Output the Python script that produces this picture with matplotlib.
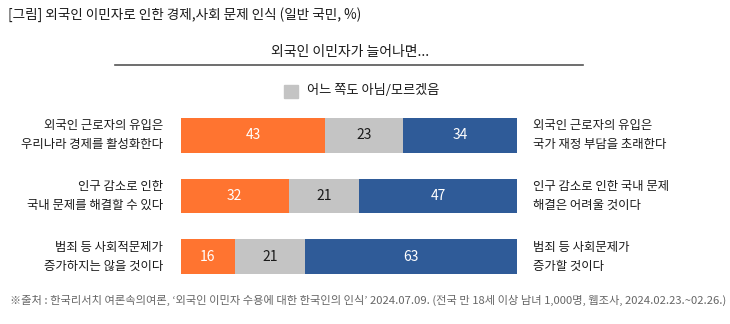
import matplotlib
matplotlib.use("Agg")
import matplotlib.pyplot as plt
from matplotlib.patches import Rectangle
from matplotlib.lines import Line2D

plt.rcParams['font.family'] = ['Noto Sans CJK KR', 'DejaVu Sans']

# data
left_labels = [
    "외국인 근로자의 유입은\n우리나라 경제를 활성화한다",
    "인구 감소로 인한\n국내 문제를 해결할 수 있다",
    "범죄 등 사회적문제가\n증가하지는 않을 것이다",
]
right_labels = [
    "외국인 근로자의 유입은\n국가 재정 부담을 초래한다",
    "인구 감소로 인한 국내 문제\n해결은 어려울 것이다",
    "범죄 등 사회문제가\n증가할 것이다",
]
agree = [43, 32, 16]
neutral = [23, 21, 21]
disagree = [34, 47, 63]

title = "[그림] 외국인 이민자로 인한 경제,사회 문제 인식 (일반 국민, %)"
subtitle = "외국인 이민자가 늘어나면..."
legend_label = "어느 쪽도 아님/모르겠음"
source = ("※출처 : 한국리서치 여론속의여론, ‘외국인 이민자 수용에 대한 한국인의 인식’ 2024.07.09. "
          "(전국 만 18세 이상 남녀 1,000명, 웹조사, 2024.02.23.~02.26.)")

c_orange = "#FF7430"
c_gray = "#C4C4C4"
c_blue = "#2F5B98"

W, H = 730, 324
fig = plt.figure(figsize=(W / 100, H / 100), dpi=100)

# bar area: x 181..517 px, y 118..274 px
ax = fig.add_axes([181 / W, 1 - 274 / H, 336 / W, 156 / H])
bh = 0.578
ys = list(range(len(agree)))
left2 = [a + n for a, n in zip(agree, neutral)]
ax.barh(ys, agree, height=bh, color=c_orange)
ax.barh(ys, neutral, left=agree, height=bh, color=c_gray)
ax.barh(ys, disagree, left=left2, height=bh, color=c_blue)

for y, a, n, d in zip(ys, agree, neutral, disagree):
    ax.text(a / 2, y, str(a), ha="center", va="center", color="white", fontsize=10)
    ax.text(a + n / 2, y, str(n), ha="center", va="center", color="#1a1a1a", fontsize=10)
    ax.text(a + n + d / 2, y, str(d), ha="center", va="center", color="white", fontsize=10)

for y, lt, rt in zip(ys, left_labels, right_labels):
    ax.text(-5.4, y, lt, ha="right", va="center", fontsize=8.9, linespacing=1.6, color="#1a1a1a")
    ax.text(104.8, y, rt, ha="left", va="center", fontsize=8.9, linespacing=1.6, color="#1a1a1a")

ax.set_xlim(0, 100)
ax.set_ylim(2 + bh / 2, -bh / 2)
ax.axis("off")

# header, subtitle with rule, legend, footer
fig.text(8 / W, 1 - 15 / H, title, ha="left", va="center", fontsize=9.8, color="#1a1a1a")
fig.text(350 / W, 1 - 52 / H, subtitle, ha="center", va="center", fontsize=10, color="#1a1a1a")
fig.add_artist(Line2D([115 / W, 583 / W], [1 - 65 / H, 1 - 65 / H], color="#555555", lw=1.2))
fig.add_artist(Rectangle((284 / W, 1 - 98 / H), 14 / W, 13 / H, color=c_gray, transform=fig.transFigure))
fig.text(307 / W, 1 - 91 / H, legend_label, ha="left", va="center", fontsize=9.5, color="#1a1a1a")
fig.text(10 / W, 1 - 300 / H, source, ha="left", va="center", fontsize=8.1, color="#666666")

fig.savefig("out.png", dpi=100)
